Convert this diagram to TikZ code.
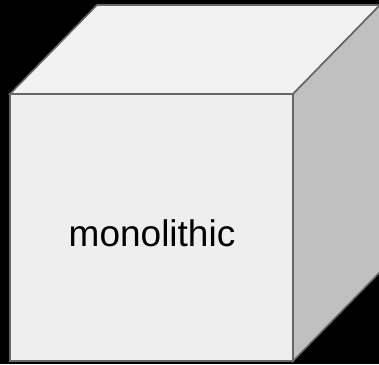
\documentclass[tikz,border=0pt]{standalone}
\usepackage{fontspec}
\setmainfont{Liberation Sans}
\definecolor{edge}{HTML}{666666}
\definecolor{frontc}{HTML}{EEEEEE}
\definecolor{topc}{HTML}{F2F2F2}
\definecolor{sidec}{HTML}{C0C0C0}
\begin{document}
\begin{tikzpicture}[x=1pt,y=1pt,
  face/.style={draw=edge,line width=1.6pt,line join=miter}]
\useasboundingbox (0,0) rectangle (379,364);
\fill[black] (0,0) rectangle (379,364);
\coordinate (ftl) at (10,270);
\coordinate (ftr) at (293,270);
\coordinate (fbl) at (10,3);
\coordinate (fbr) at (293,3);
\coordinate (btl) at (97,359);
\coordinate (btr) at (380,359);
\coordinate (bbr) at (380,92);
\filldraw[face,fill=topc] (ftl) -- (btl) -- (btr) -- (ftr) -- cycle;
\filldraw[face,fill=sidec] (ftr) -- (btr) -- (bbr) -- (fbr) -- cycle;
\filldraw[face,fill=frontc] (ftl) rectangle (fbr);
\node[font=\fontsize{37}{44}\selectfont,text=black] (label) at (152,131) {monolithic};
\end{tikzpicture}
\end{document}
